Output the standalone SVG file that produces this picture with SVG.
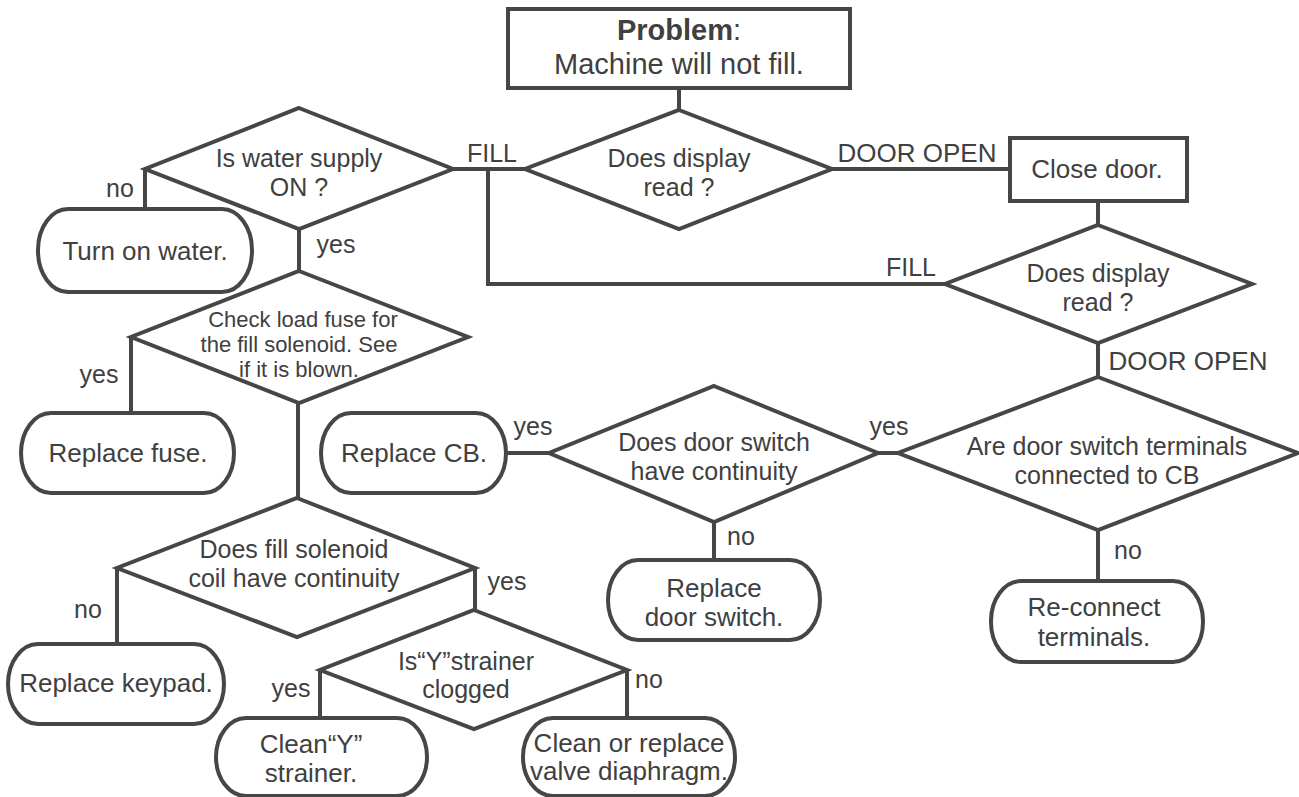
<svg xmlns="http://www.w3.org/2000/svg" width="1299" height="797" viewBox="0 0 1299 797">
<style>
.s{fill:#fff;stroke:#464646;stroke-width:4}
.c{fill:none;stroke:#464646;stroke-width:4}
text{font-family:"Liberation Sans",Arial,sans-serif;font-size:25px;fill:#404040}
.m{text-anchor:middle}
.b{font-size:26px}
.sm{font-size:22px}
.big{font-size:29px}
</style>
<rect width="1299" height="797" fill="#fff"/>
<g id="connectors">
<path class="c" d="M679,88V110M453,169H525M488,169V284H945M832,169H1010M1098,201V225M1098,343V377M878,453H898M506,453H549M714,522V560M1098,530V581M145,169V209M299,228V271M131,337V413M298,403V498M117,568V644M475,568V610M320,670V718M627,670V718"/>
<text x="120" y="197" class="m">no</text>
<text x="336" y="253" class="m">yes</text>
<text x="492" y="162" class="m">FILL</text>
<text x="917" y="162" class="m b">DOOR OPEN</text>
<text x="911" y="276" class="m">FILL</text>
<text x="1188" y="370" class="m b">DOOR OPEN</text>
<text x="889" y="435" class="m">yes</text>
<text x="533" y="435" class="m">yes</text>
<text x="99" y="383" class="m">yes</text>
<text x="741" y="545" class="m">no</text>
<text x="1128" y="559" class="m">no</text>
<text x="88" y="618" class="m">no</text>
<text x="507" y="590" class="m">yes</text>
<text x="291" y="697" class="m">yes</text>
<text x="649" y="688" class="m">no</text>
</g>
<g id="problem">
<rect class="s" x="508" y="9" width="342" height="79"/>
<text x="679" y="40" class="m big"><tspan font-weight="bold">Problem</tspan>:</text>
<text x="679" y="74" class="m big">Machine will not fill.</text>
</g>
<g id="water">
<polygon class="s" points="299,108 453,169 299,229 145,169"/>
<text x="299" y="167" class="m">Is water supply</text>
<text x="299" y="196" class="m">ON ?</text>
</g>
<g id="display1">
<polygon class="s" points="679,110 832,169 679,229 525,169"/>
<text x="679" y="167" class="m">Does display</text>
<text x="679" y="196" class="m">read ?</text>
</g>
<g id="closedoor">
<rect class="s" x="1010" y="138" width="177" height="63"/>
<text x="1097" y="178" class="m b">Close door.</text>
</g>
<g id="turnon">
<rect class="s" x="38" y="209" width="214" height="83" rx="30" ry="41"/>
<text x="145" y="260" class="m b">Turn on water.</text>
</g>
<g id="display2">
<polygon class="s" points="1098,225 1252,284 1098,343 945,284"/>
<text x="1098" y="282" class="m">Does display</text>
<text x="1098" y="311" class="m">read ?</text>
</g>
<g id="fuse">
<polygon class="s" points="299,271 468,337 299,403 131,337"/>
<text x="303" y="327" class="m sm">Check load fuse for</text>
<text x="299" y="352" class="m sm">the fill solenoid. See</text>
<text x="299" y="377" class="m sm">if it is blown.</text>
</g>
<g id="replacefuse">
<rect class="s" x="21" y="413" width="213" height="80" rx="30" ry="40"/>
<text x="128" y="462" class="m b">Replace fuse.</text>
</g>
<g id="replacecb">
<rect class="s" x="321" y="413" width="185" height="80" rx="30" ry="40"/>
<text x="414" y="462" class="m b">Replace CB.</text>
</g>
<g id="doorswitch">
<polygon class="s" points="714,386 878,453 714,522 549,453"/>
<text x="714" y="451" class="m">Does door switch</text>
<text x="714" y="480" class="m">have continuity</text>
</g>
<g id="terminals">
<polygon class="s" points="1098,377 1298,453 1098,530 898,453"/>
<text x="1107" y="455" class="m">Are door switch terminals</text>
<text x="1107" y="484" class="m">connected to CB</text>
</g>
<g id="replacedoorswitch">
<rect class="s" x="608" y="560" width="212" height="80" rx="30" ry="40"/>
<text x="714" y="597" class="m b">Replace</text>
<text x="714" y="626" class="m b">door switch.</text>
</g>
<g id="reconnect">
<rect class="s" x="991" y="581" width="212" height="81" rx="30" ry="40"/>
<text x="1094" y="616" class="m b">Re-connect</text>
<text x="1094" y="646" class="m b">terminals.</text>
</g>
<g id="solenoid">
<polygon class="s" points="297,498 475,568 297,637 117,568"/>
<text x="294" y="558" class="m">Does fill solenoid</text>
<text x="294" y="587" class="m">coil have continuity</text>
</g>
<g id="keypad">
<rect class="s" x="8" y="644" width="216" height="80" rx="30" ry="40"/>
<text x="116" y="692" class="m b">Replace keypad.</text>
</g>
<g id="strainer">
<polygon class="s" points="474,610 627,670 474,729 320,670"/>
<text x="466" y="670" class="m">Is“Y”strainer</text>
<text x="466" y="698" class="m">clogged</text>
</g>
<g id="cleany">
<rect class="s" x="216" y="718" width="211" height="78" rx="30" ry="39"/>
<text x="311" y="753" class="m b">Clean“Y”</text>
<text x="311" y="782" class="m b">strainer.</text>
</g>
<g id="cleanvalve">
<rect class="s" x="523" y="718" width="212" height="78" rx="30" ry="39"/>
<text x="629" y="752" class="m b">Clean or replace</text>
<text x="629" y="780" class="m b">valve diaphragm.</text>
</g>
</svg>
